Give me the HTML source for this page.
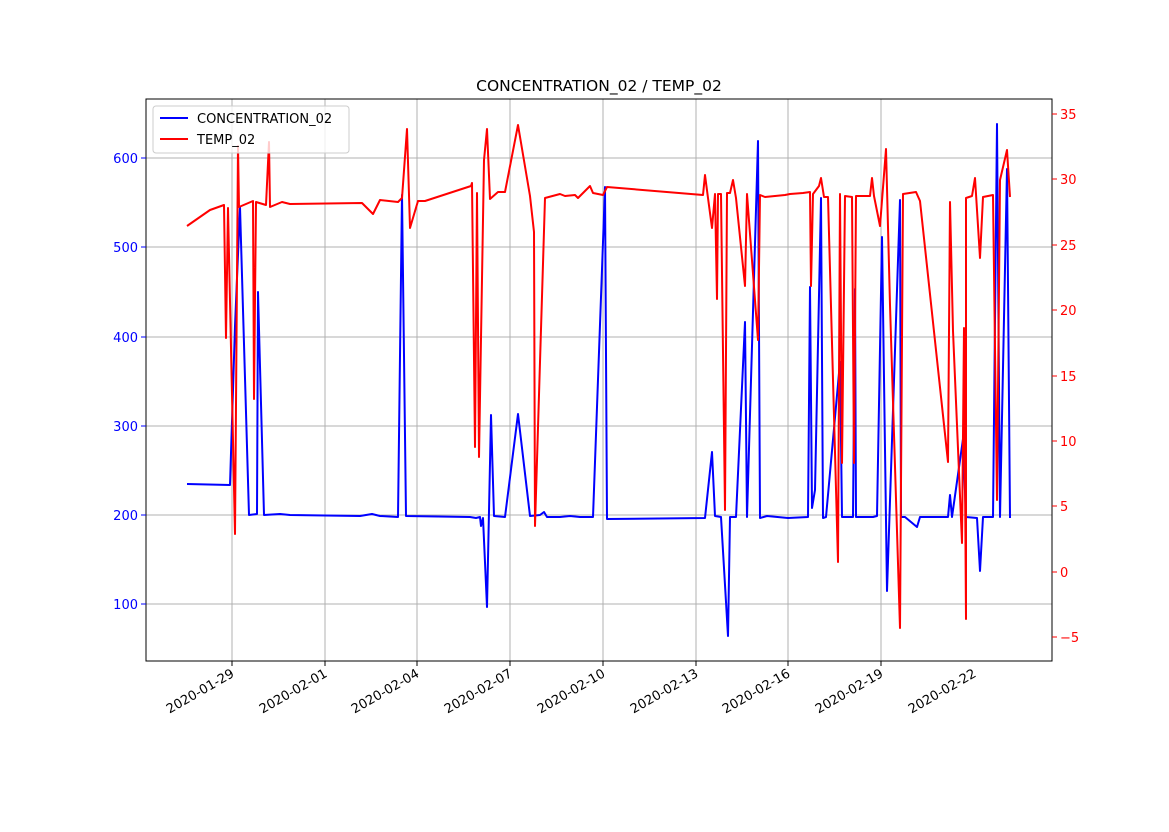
<!DOCTYPE html>
<html><head><meta charset="utf-8"><style>
body{margin:0;background:#fff}
text{font-family:"DejaVu Sans","Liberation Sans",sans-serif;font-size:13px}
</style></head><body>
<svg width="1169" height="827" xmlns="http://www.w3.org/2000/svg">
<rect width="1169" height="827" fill="#fff"/>
<g stroke="#b0b0b0" stroke-width="1">
<line x1="232" y1="99" x2="232" y2="661"/><line x1="325" y1="99" x2="325" y2="661"/>
<line x1="417" y1="99" x2="417" y2="661"/><line x1="510" y1="99" x2="510" y2="661"/>
<line x1="603" y1="99" x2="603" y2="661"/><line x1="696" y1="99" x2="696" y2="661"/>
<line x1="788" y1="99" x2="788" y2="661"/><line x1="881" y1="99" x2="881" y2="661"/>
<line x1="146" y1="604" x2="1052" y2="604"/><line x1="146" y1="515" x2="1052" y2="515"/>
<line x1="146" y1="426" x2="1052" y2="426"/><line x1="146" y1="337" x2="1052" y2="337"/>
<line x1="146" y1="247" x2="1052" y2="247"/><line x1="146" y1="158" x2="1052" y2="158"/>
</g>
<polyline fill="none" stroke="#0000ff" stroke-width="2" stroke-linejoin="round" points="187,484 230,485 235,326 240,207 249,515 257,514 258,292 264,515 280,514 290,515 360,516 372,514 380,516 398,517 402,195 406,516 470,517 476,518 480,517 481,526 483,518 487,607 491,415 494,516 505,517 518,414 530,516 540,515 544,512 547,517 560,517 570,516 580,517 593,517 605,187 607,519 705,518 712,452 715,516 721,517 728,636 730,517 736,517 745,322 747,517 758,141 760,518 767,516 788,518 808,517 810,287 812,508 815,490 821,198 823,518 826,517 840,362 842,517 853,517 855,289 856,517 873,517 877,516 882,237 887,591 900,200 901,517 905,517 917,527 920,517 948,517 950,495 952,517 963,439 966,517 977,518 980,571 983,517 993,517 997,124 1000,517 1007,169 1010,518"/>
<polyline fill="none" stroke="#ff0000" stroke-width="2" stroke-linejoin="round" points="187,226 210,210 224,205 226,338 228,208 235,534 238,146 239,207 253,201 254,399 256,202 266,205 269,142 270,207 282,202 290,204 362,203 373,214 380,200 398,202 402,198 407,129 410,228 418,201 425,201 471,186 472,183 475,447 477,193 479,457 484,160 487,129 490,199 498,192 505,192 518,125 530,196 534,232 535,526 545,198 560,194 565,196 575,195 578,198 590,186 593,193 603,195 607,187 703,195 705,175 708,198 712,228 715,194 717,299 718,194 721,194 725,510 727,193 730,193 733,180 736,198 745,286 747,194 758,340 760,195 765,197 785,195 790,194 803,193 810,192 811,286 813,194 819,186 821,178 824,197 828,197 838,562 840,194 842,463 845,196 852,197 854,463 856,196 870,196 872,178 874,196 880,226 886,149 890,305 900,628 903,194 916,192 920,201 948,462 950,202 953,331 962,543 964,328 966,619 966,198 972,196 975,178 980,258 983,197 993,195 997,500 1000,180 1007,150 1010,197"/>
<rect x="146" y="99" width="906" height="562" fill="none" stroke="#000" stroke-width="1"/>
<g stroke="#0000ff"><line x1="146" y1="604" x2="141" y2="604"/><line x1="146" y1="515" x2="141" y2="515"/><line x1="146" y1="426" x2="141" y2="426"/><line x1="146" y1="337" x2="141" y2="337"/><line x1="146" y1="247" x2="141" y2="247"/><line x1="146" y1="158" x2="141" y2="158"/></g>
<g fill="#0000ff" text-anchor="end"><text x="138" y="609">100</text><text x="138" y="520">200</text><text x="138" y="431">300</text><text x="138" y="342">400</text><text x="138" y="252">500</text><text x="138" y="163">600</text></g>
<g stroke="#ff0000"><line x1="1052" y1="637" x2="1057" y2="637"/><line x1="1052" y1="572" x2="1057" y2="572"/><line x1="1052" y1="506" x2="1057" y2="506"/><line x1="1052" y1="441" x2="1057" y2="441"/><line x1="1052" y1="376" x2="1057" y2="376"/><line x1="1052" y1="310" x2="1057" y2="310"/><line x1="1052" y1="245" x2="1057" y2="245"/><line x1="1052" y1="179" x2="1057" y2="179"/><line x1="1052" y1="114" x2="1057" y2="114"/></g>
<g fill="#ff0000"><text x="1060" y="642">−5</text><text x="1060" y="577">0</text><text x="1060" y="511">5</text><text x="1060" y="446">10</text><text x="1060" y="381">15</text><text x="1060" y="315">20</text><text x="1060" y="250">25</text><text x="1060" y="184">30</text><text x="1060" y="119">35</text></g>
<g stroke="#000"><line x1="232" y1="661" x2="232" y2="666"/><line x1="325" y1="661" x2="325" y2="666"/><line x1="417" y1="661" x2="417" y2="666"/><line x1="510" y1="661" x2="510" y2="666"/><line x1="603" y1="661" x2="603" y2="666"/><line x1="696" y1="661" x2="696" y2="666"/><line x1="788" y1="661" x2="788" y2="666"/><line x1="881" y1="661" x2="881" y2="666"/></g>
<g text-anchor="end">
<text transform="translate(235,676) rotate(-30)">2020-01-29</text>
<text transform="translate(328,676) rotate(-30)">2020-02-01</text>
<text transform="translate(420,676) rotate(-30)">2020-02-04</text>
<text transform="translate(513,676) rotate(-30)">2020-02-07</text>
<text transform="translate(606,676) rotate(-30)">2020-02-10</text>
<text transform="translate(699,676) rotate(-30)">2020-02-13</text>
<text transform="translate(791,676) rotate(-30)">2020-02-16</text>
<text transform="translate(884,676) rotate(-30)">2020-02-19</text>
<text transform="translate(977,676) rotate(-30)">2020-02-22</text>
</g>
<text x="599" y="91" text-anchor="middle" style="font-size:15.5px">CONCENTRATION_02 / TEMP_02</text>
<rect x="153" y="106" width="196" height="47" rx="3" fill="#fff" fill-opacity="0.8" stroke="#ccc"/>
<line x1="160" y1="118" x2="188" y2="118" stroke="#0000ff" stroke-width="2"/>
<text x="197" y="123">CONCENTRATION_02</text>
<line x1="160" y1="139" x2="188" y2="139" stroke="#ff0000" stroke-width="2"/>
<text x="197" y="144">TEMP_02</text>
</svg>
</body></html>
